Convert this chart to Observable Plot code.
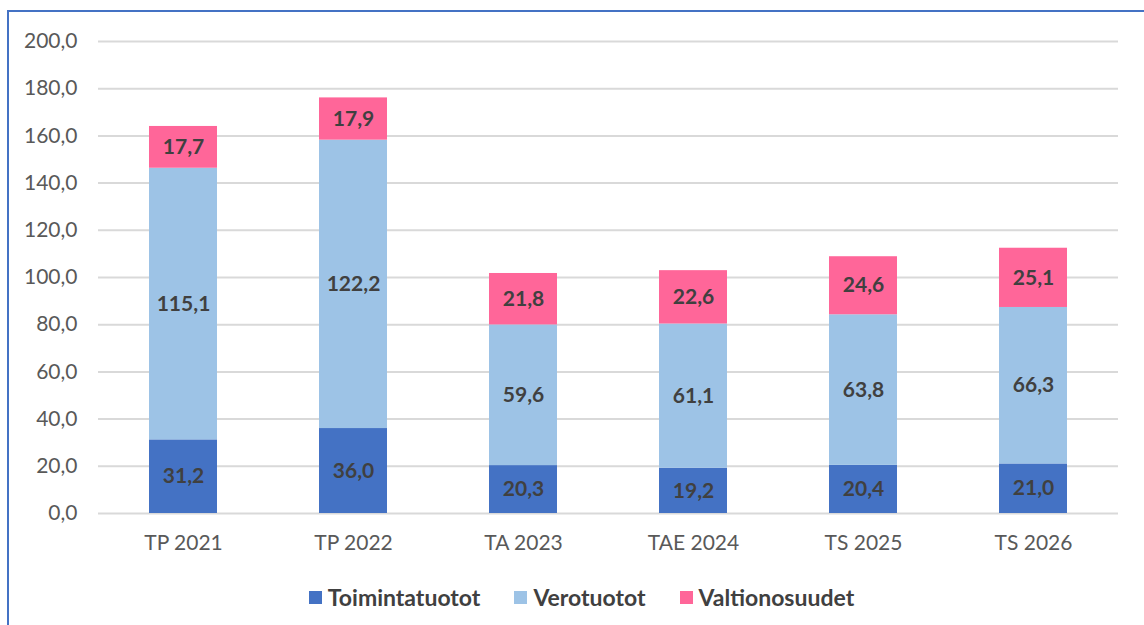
<!DOCTYPE html>
<html>
<head>
<meta charset="utf-8">
<script src="https://cdn.jsdelivr.net/npm/d3@7"></script>
<script src="https://cdn.jsdelivr.net/npm/@observablehq/plot@0.6"></script>
<style>
  html, body { margin: 0; padding: 0; background: #fff; }
  body { width: 1144px; height: 625px; position: relative; overflow: hidden; font-family: Lato, "Open Sans", sans-serif; }
  #frame { position: absolute; left: 7px; top: 10px; width: 1160px; height: 640px; border-left: 2px solid #4472C4; border-top: 2px solid #4472C4; box-sizing: border-box; }
  #chart { position: absolute; left: 0; top: 0; }
  #legend { position: absolute; top: 582px; left: 0; width: 1163px; display: flex; justify-content: center; gap: 34px; font-weight: bold; font-size: 23px; line-height: 30px; color: #404040; }
  #legend .item { display: flex; align-items: center; gap: 6px; }
  #legend .sw { width: 13px; height: 13px; display: inline-block; }
</style>
</head>
<body>
<div id="frame"></div>
<div id="chart"></div>
<div id="legend"></div>
<script>
const categories = ["TP 2021", "TP 2022", "TA 2023", "TAE 2024", "TS 2025", "TS 2026"];
const series = ["Toimintatuotot", "Verotuotot", "Valtionosuudet"];
const toimintatuotot = [31.2, 36.0, 20.3, 19.2, 20.4, 21.0];
const verotuotot = [115.1, 122.2, 59.6, 61.1, 63.8, 66.3];
const valtionosuudet = [17.7, 17.9, 21.8, 22.6, 24.6, 25.1];
const yTicks = [0, 20, 40, 60, 80, 100, 120, 140, 160, 180, 200];
const colors = ["#4472C4", "#9DC3E6", "#FF6699"];

const values = [toimintatuotot, verotuotot, valtionosuudet];
const data = categories.flatMap((c, i) => series.map((s, j) => ({category: c, series: s, value: values[j][i]})));
const fmt = v => v.toFixed(1).replace(".", ",");

const chart = Plot.plot({
  width: 1144,
  height: 570,
  marginLeft: 98,
  marginRight: 26,
  marginTop: 41,
  marginBottom: 57,
  style: {fontFamily: "Lato, 'Open Sans', sans-serif", fontSize: "21px", color: "#595959", background: "transparent"},
  x: {domain: categories, paddingInner: 0.6, paddingOuter: 0.3, label: null, tickSize: 0, tickPadding: 22},
  y: {domain: [0, 200], ticks: yTicks, tickFormat: fmt, label: null, tickSize: 0, tickPadding: 21},
  color: {domain: series, range: colors},
  marks: [
    Plot.gridY(yTicks, {stroke: "#d9d9d9", strokeOpacity: 1, strokeWidth: 2}),
    Plot.barY(data, {x: "category", y: "value", fill: "series"}),
    Plot.text(data, Plot.stackY({x: "category", y: "value", z: "series", text: d => fmt(d.value), fill: "#404040", fontWeight: "bold", fontSize: 21}))
  ]
});
document.getElementById("chart").appendChild(chart);

const legend = document.getElementById("legend");
series.forEach((s, i) => {
  const item = document.createElement("div");
  item.className = "item";
  const sw = document.createElement("span");
  sw.className = "sw";
  sw.style.background = colors[i];
  const t = document.createElement("span");
  t.textContent = s;
  item.appendChild(sw);
  item.appendChild(t);
  legend.appendChild(item);
});
</script>
</body>
</html>
